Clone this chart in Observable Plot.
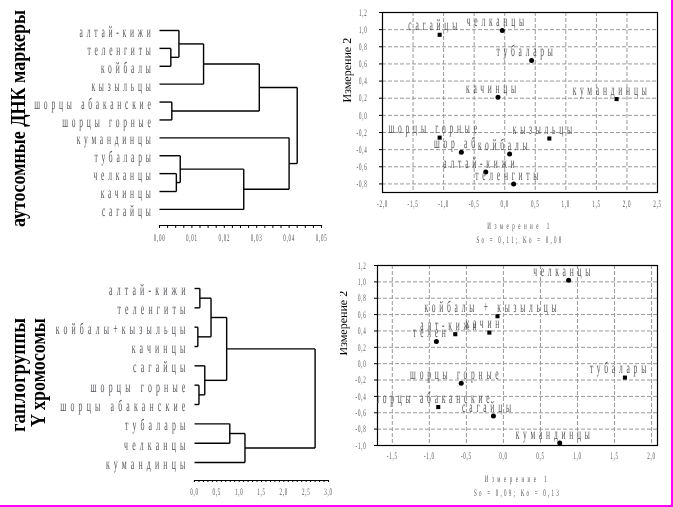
<!DOCTYPE html>
<html><head><meta charset="utf-8">
<script src="https://cdn.jsdelivr.net/npm/d3@7"></script>
<script src="https://cdn.jsdelivr.net/npm/@observablehq/plot@0.6"></script>
<style>
body{margin:0;background:#fff;}
#wrap{position:relative;width:673px;height:507px;overflow:hidden;background:#fff;}
.panel{position:absolute;will-change:transform;opacity:0.999;}
.panel svg{text-rendering:geometricPrecision;-webkit-font-smoothing:antialiased;}
#border{position:absolute;left:0;top:0;width:671px;height:505px;border-right:2px solid #ff00ff;border-bottom:2px solid #ff00ff;pointer-events:none;box-sizing:content-box;}
</style></head><body>
<div id="wrap"></div>
<script>
// ---------- DATA ----------
// Titles
const titleTop = "аутосомные ДНК маркеры";
const titleBot1 = "гаплогруппы";
const titleBot2 = "Y хромосомы";

// Top dendrogram (autosomal DNA markers)
const leavesTop = ["алтай-кижи","теленгиты","койбалы","кызыльцы","шорцы абаканские","шорцы горные","кумандинцы","тубалары","челканцы","качинцы","сагайцы"];
const mergeATop = [1, 0, 12, 4, 13, 8, 7, 17, 6, 15];
const mergeBTop = [2, 11, 3, 5, 14, 9, 16, 10, 18, 19];
const heightTop = [0.0035, 0.006, 0.0136, 0.0038, 0.0308, 0.0052, 0.0064, 0.026, 0.040, 0.0425];
const ticksTopMajor = [0, 0.01, 0.02, 0.03, 0.04, 0.05];

// Bottom dendrogram (Y chromosome haplogroups)
const leavesBot = ["алтай-кижи","теленгиты","койбалы+кызыльцы","качинцы","сагайцы","шорцы горные","шорцы абаканские","тубалары","челканцы","кумандинцы"];
const mergeABot = [0, 2, 10, 5, 4, 12, 7, 16, 15];
const mergeBBot = [1, 3, 11, 6, 13, 14, 8, 9, 17];
const heightBot = [0.12, 0.075, 0.37, 0.10, 0.23, 0.72, 0.79, 1.13, 2.70];
const ticksBotMajor = [0, 0.5, 1.0, 1.5, 2.0, 2.5, 3.0];

// Top scatter (MDS, autosomal)
const sTopLabel = ["сагайцы","челканцы","тубалары","качинцы","кумандинцы","шорцы горные","кызыльцы","шор аб","койбалы","алтай-кижи","теленгиты"];
const sTopX = [-1.065, -0.04, 0.44, -0.11, 1.83, -1.065, 0.73, -0.71, 0.08, -0.31, 0.146];
const sTopY = [0.94, 0.99, 0.64, 0.21, 0.19, -0.26, -0.27, -0.43, -0.45, -0.66, -0.80];
const sTopShape = ["square","circle","circle","circle","square","square","square","circle","circle","circle","circle"];
const sTopXTicks = [-2.0,-1.5,-1.0,-0.5,0.0,0.5,1.0,1.5,2.0,2.5];
const sTopYTicks = [-0.8,-0.6,-0.4,-0.2,0.0,0.2,0.4,0.6,0.8,1.0,1.2];
const sTopStats = "So = 0,11; Ko = 0,08";

// Bottom scatter (MDS, Y chromosome)
const sBotLabel = ["челканцы","койбалы + кызыльцы","качин","алт-кижи","телен","тубалары","шорцы горные","шорцы абаканские","сагайцы","кумандинцы"];
const sBotX = [0.88, -0.08, -0.19, -0.65, -0.905, 1.64, -0.57, -0.88, -0.135, 0.76];
const sBotY = [1.02, 0.58, 0.38, 0.36, 0.27, -0.17, -0.24, -0.53, -0.64, -0.97];
const sBotShape = ["circle","square","square","square","circle","square","circle","square","circle","circle"];
const sBotXTicks = [-1.5,-1.0,-0.5,0.0,0.5,1.0,1.5,2.0];
const sBotYTicks = [-1.0,-0.8,-0.6,-0.4,-0.2,0.0,0.2,0.4,0.6,0.8,1.0,1.2];
const sBotStats = "So = 0,09; Ko = 0,13";

const dimX = "Измерение 1";
const dimY = "Измерение 2";

// ---------- HELPERS ----------
const serif = '"Liberation Serif","Times New Roman",serif';
const fmt1 = d => d.toFixed(1).replace(".", ",");
const fmt2 = d => d.toFixed(2).replace(".", ",");
const wrap = document.getElementById("wrap");

// distinct (visually identical) greys used as tags for text groups
const C_LEAF = "#555556", C_LEAF2 = "#55555b", C_PT = "#555557", C_TICK = "#555558", C_DIM = "#555559", C_STAT = "#55555a";

function dendroSegments(n, A, B, H) {
  const y = d3.range(n), h = new Array(n).fill(0), segs = [];
  A.forEach((a, k) => {
    const b = B[k], hk = H[k];
    segs.push({x1: h[a], y1: y[a], x2: hk, y2: y[a]});
    segs.push({x1: h[b], y1: y[b], x2: hk, y2: y[b]});
    segs.push({x1: hk, y1: y[a], x2: hk, y2: y[b]});
    y.push((y[a] + y[b]) / 2); h.push(hk);
  });
  return segs;
}

function place(svg, left, top) {
  const d = document.createElement("div");
  d.className = "panel"; d.style.left = left + "px"; d.style.top = top + "px";
  d.appendChild(svg); wrap.appendChild(d);
}

const textRules = [
  [C_LEAF, 8, 0.47],
  [C_LEAF2, 8.5, 0.49],
  [C_PT, 8, 0.47],
  [C_TICK, 1.5, 0.5],
  [C_DIM, 7, 0.5],
  [C_STAT, 4.5, 0.5]
];
function tune(svg) {
  svg.querySelectorAll("text").forEach(t => {
    const holder = t.getAttribute("fill") ? t : t.closest("[fill]");
    const f = holder ? holder.getAttribute("fill").toLowerCase() : "";
    const rule = textRules.find(r => r[0] === f);
    if (!rule) return;
    const [, ls, s] = rule;
    t.style.letterSpacing = ls + "px";
    const L = t.getComputedTextLength();
    if (L > 0) {
      t.setAttribute("textLength", (L * s).toFixed(2));
      t.setAttribute("lengthAdjust", "spacingAndGlyphs");
    }
  });
}

const baseStyle = {fontFamily: serif, fontSize: "10px", color: "black", background: "transparent", overflow: "hidden"};

// ---------- TOP DENDROGRAM ----------
{
  const segs = dendroSegments(leavesTop.length, mergeATop, mergeBTop, heightTop);
  const svg = Plot.plot({
    width: 340, height: 250, marginLeft: 159, marginRight: 19, marginTop: 30, marginBottom: 25,
    x: {domain: [0, 0.05]}, y: {domain: [10.9, 0], axis: null},
    style: baseStyle,
    marks: [
      Plot.link(segs, {x1: "x1", y1: "y1", x2: "x2", y2: "y2", stroke: "black", strokeWidth: 1.4}),
      Plot.text(leavesTop, {x: () => 0, y: (d, i) => i, text: d => d, textAnchor: "end", dx: -5, dy: 1.5, fontSize: 16, fill: C_LEAF}),
      Plot.frame({anchor: "bottom", stroke: "black", strokeWidth: 1.2}),
      Plot.axisX({ticks: d3.range(0, 0.05001, 0.0025), tickSize: 3, tickFormat: () => "", stroke: "black", label: null}),
      Plot.axisX({ticks: ticksTopMajor, tickSize: 0, tickPadding: 8, tickFormat: fmt2, fill: C_TICK, fontSize: 10, label: null})
    ]
  });
  place(svg, 0, 0); tune(svg);
}

// ---------- BOTTOM DENDROGRAM ----------
{
  const segs = dendroSegments(leavesBot.length, mergeABot, mergeBBot, heightBot);
  const svg = Plot.plot({
    width: 340, height: 257, marginLeft: 194, marginRight: 12, marginTop: 38, marginBottom: 27,
    x: {domain: [0, 3]}, y: {domain: [9.93, 0], axis: null},
    style: baseStyle,
    marks: [
      Plot.link(segs, {x1: "x1", y1: "y1", x2: "x2", y2: "y2", stroke: "black", strokeWidth: 1.4}),
      Plot.text(leavesBot, {x: () => 0, y: (d, i) => i, text: d => d, textAnchor: "end", dx: -5, dy: 1.5, fontSize: 16, fill: C_LEAF2}),
      Plot.frame({anchor: "bottom", stroke: "black", strokeWidth: 1.2}),
      Plot.axisX({ticks: d3.range(0, 3.0001, 0.1), tickSize: 2, tickFormat: () => "", stroke: "black", label: null}),
      Plot.axisX({ticks: ticksBotMajor, tickSize: 0, tickPadding: 7, tickFormat: fmt1, fill: C_TICK, fontSize: 10, label: null})
    ]
  });
  place(svg, 0, 250); tune(svg);
}

// ---------- SCATTERS ----------
function scatter({labels, xs, ys, shapes, xTicks, yTicks, stats, width, height, margins, xDomain, yDomain, yPad, xPad, ylabDx, clip}) {
  const pts = labels.map((l, i) => ({label: l, x: xs[i], y: ys[i], shape: shapes[i]}));
  const grid = {stroke: "#9a9a9a", strokeOpacity: 1, strokeDasharray: "4,2", strokeWidth: 1};
  return Plot.plot({
    width, height, ...margins,
    x: {domain: xDomain}, y: {domain: yDomain},
    style: baseStyle,
    marks: [
      Plot.gridX({ticks: xTicks, ...grid}),
      Plot.gridY({ticks: yTicks, ...grid}),
      Plot.frame({stroke: "black", strokeWidth: 1.2}),
      Plot.axisY({ticks: yTicks, tickSize: 3, tickPadding: yPad, tickFormat: fmt1, stroke: "black", fill: C_TICK, fontSize: 10, label: null}),
      Plot.axisX({ticks: xTicks, tickSize: 0, tickPadding: xPad, tickFormat: fmt1, fill: C_TICK, fontSize: 10, label: null}),
      Plot.dot(pts, {filter: d => d.shape === "circle", x: "x", y: "y", r: 2.5, fill: "black", stroke: "none"}),
      Plot.dot(pts, {filter: d => d.shape === "square", x: "x", y: "y", symbol: "square", r: 2.3, fill: "black", stroke: "none"}),
      Plot.text(pts, {x: "x", y: "y", text: "label", dx: -5, dy: -9.5, fontSize: 16, fill: C_PT, clip}),
      Plot.text([dimY], {frameAnchor: "left", rotate: -90, dx: ylabDx, fontSize: 12, fill: "black"}),
      Plot.text([dimX], {frameAnchor: "bottom", dy: 36, fontSize: 10, fill: C_DIM}),
      Plot.text([stats], {frameAnchor: "bottom", dy: 50, fontSize: 10, fill: C_STAT})
    ]
  });
}

{
  const svg = scatter({labels: sTopLabel, xs: sTopX, ys: sTopY, shapes: sTopShape, xTicks: sTopXTicks, yTicks: sTopYTicks, stats: sTopStats,
    width: 333, height: 250, margins: {marginLeft: 42, marginRight: 16, marginTop: 12, marginBottom: 58},
    xDomain: [-2, 2.5], yDomain: [-0.9, 1.2], yPad: 12, xPad: 7, ylabDx: -35, clip: false});
  place(svg, 340, 0); tune(svg);
}
{
  const svg = scatter({labels: sBotLabel, xs: sBotX, ys: sBotY, shapes: sBotShape, xTicks: sBotXTicks, yTicks: sBotYTicks, stats: sBotStats,
    width: 333, height: 257, margins: {marginLeft: 37, marginRight: 16, marginTop: 15, marginBottom: 62},
    xDomain: [-1.7, 2.08], yDomain: [-1.0, 1.2], yPad: 8, xPad: 6, ylabDx: -34, clip: true});
  place(svg, 340, 250); tune(svg);
}

// ---------- TITLES ----------
const ov = d3.select(wrap).append("svg").attr("width", 673).attr("height", 507)
  .style("position", "absolute").style("left", "0px").style("top", "0px").style("pointer-events", "none");
function title(txt, x, y, len, size) {
  ov.append("text").attr("transform", `translate(${x},${y}) rotate(-90)`).attr("text-anchor", "middle")
    .attr("font-family", serif).attr("font-weight", "bold").attr("font-size", size)
    .attr("textLength", len).attr("lengthAdjust", "spacingAndGlyphs").text(txt);
}
title(titleTop, 25, 118.5, 217, 20);
title(titleBot1, 24.5, 375, 114, 20);
title(titleBot2, 44.5, 372.5, 109, 20);

const b = document.createElement("div"); b.id = "border"; wrap.appendChild(b);
</script>
</body></html>
